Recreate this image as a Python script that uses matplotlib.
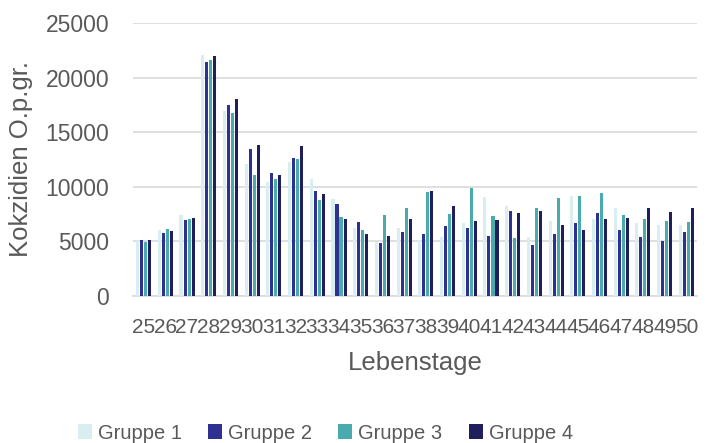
import numpy as np
import matplotlib.pyplot as plt

plt.rcParams['font.family'] = ['Liberation Sans', 'DejaVu Sans']

tage = [str(t) for t in range(25, 51)]

gruppe1 = [5000, 6000, 7400, 22100, 16900, 12100, 10400, 12300, 10700, 8850,
           6200, 4950, 6200, 5150, 5400, 6700, 9070, 8240, 5430, 6870,
           9160, 7050, 8060, 6650, 6500, 6500]
gruppe2 = [5100, 5750, 6950, 21450, 17450, 13450, 11250, 12650, 9600, 8400,
           6750, 4850, 5850, 5650, 6450, 6250, 5470, 7750, 4670, 5650,
           6650, 7570, 6040, 5430, 5040, 5860]
gruppe3 = [4900, 6150, 7050, 21600, 16750, 11050, 10750, 12550, 8750, 7250,
           6050, 7450, 8050, 9550, 7550, 9850, 7330, 5350, 8060, 8950,
           9160, 9430, 7420, 7050, 6870, 6750]
gruppe4 = [5150, 5950, 7150, 21950, 18000, 13850, 11050, 13750, 9350, 7050,
           5650, 5450, 7050, 9650, 8250, 6850, 6960, 7570, 7750, 6530,
           6040, 7050, 7140, 8060, 7660, 8060]

namen = ["Gruppe 1", "Gruppe 2", "Gruppe 3", "Gruppe 4"]
farben = ["#d9eef0", "#2e3192", "#4aabaf", "#1f1f5c"]
text_farbe = "#595959"

fig = plt.figure(figsize=(7.1, 4.43), dpi=100)
ax = fig.add_axes([0.187, 0.332, 0.795, 0.616])

x = np.arange(len(tage))
breite = 0.14
abstand = 0.185
for i, (werte, name, farbe) in enumerate(zip([gruppe1, gruppe2, gruppe3, gruppe4], namen, farben)):
    ax.bar(x + (i - 1.5) * abstand, werte, width=breite, color=farbe, label=name, zorder=3)

ax.set_ylim(0, 25000)
ax.set_xlim(-0.5, len(tage) - 0.5)
ax.set_yticks(range(0, 25001, 5000))
ax.set_xticks(x)
ax.set_xticklabels(tage)
ax.grid(axis='y', color='#d9d9d9', linewidth=1.2, zorder=0)
for s in ['top', 'right', 'left']:
    ax.spines[s].set_visible(False)
ax.spines['bottom'].set_color('#d9d9d9')
ax.spines['bottom'].set_linewidth(1.2)
ax.tick_params(axis='both', length=0, colors=text_farbe)
ax.tick_params(axis='y', pad=17, labelsize=16.5)
ax.tick_params(axis='x', pad=16, labelsize=15)

ax.set_xlabel("Lebenstage", fontsize=18.5, color=text_farbe, labelpad=10)
ax.set_ylabel("Kokzidien O.p.gr.", fontsize=18.5, color=text_farbe, labelpad=9)

fig.legend(loc='lower center', bbox_to_anchor=(0.458, -0.04), ncol=4, frameon=False,
           fontsize=14.5, labelcolor=text_farbe, handlelength=0.7, handleheight=0.7,
           handletextpad=0.3, columnspacing=1.3)

fig.savefig("out.png", dpi=100)
